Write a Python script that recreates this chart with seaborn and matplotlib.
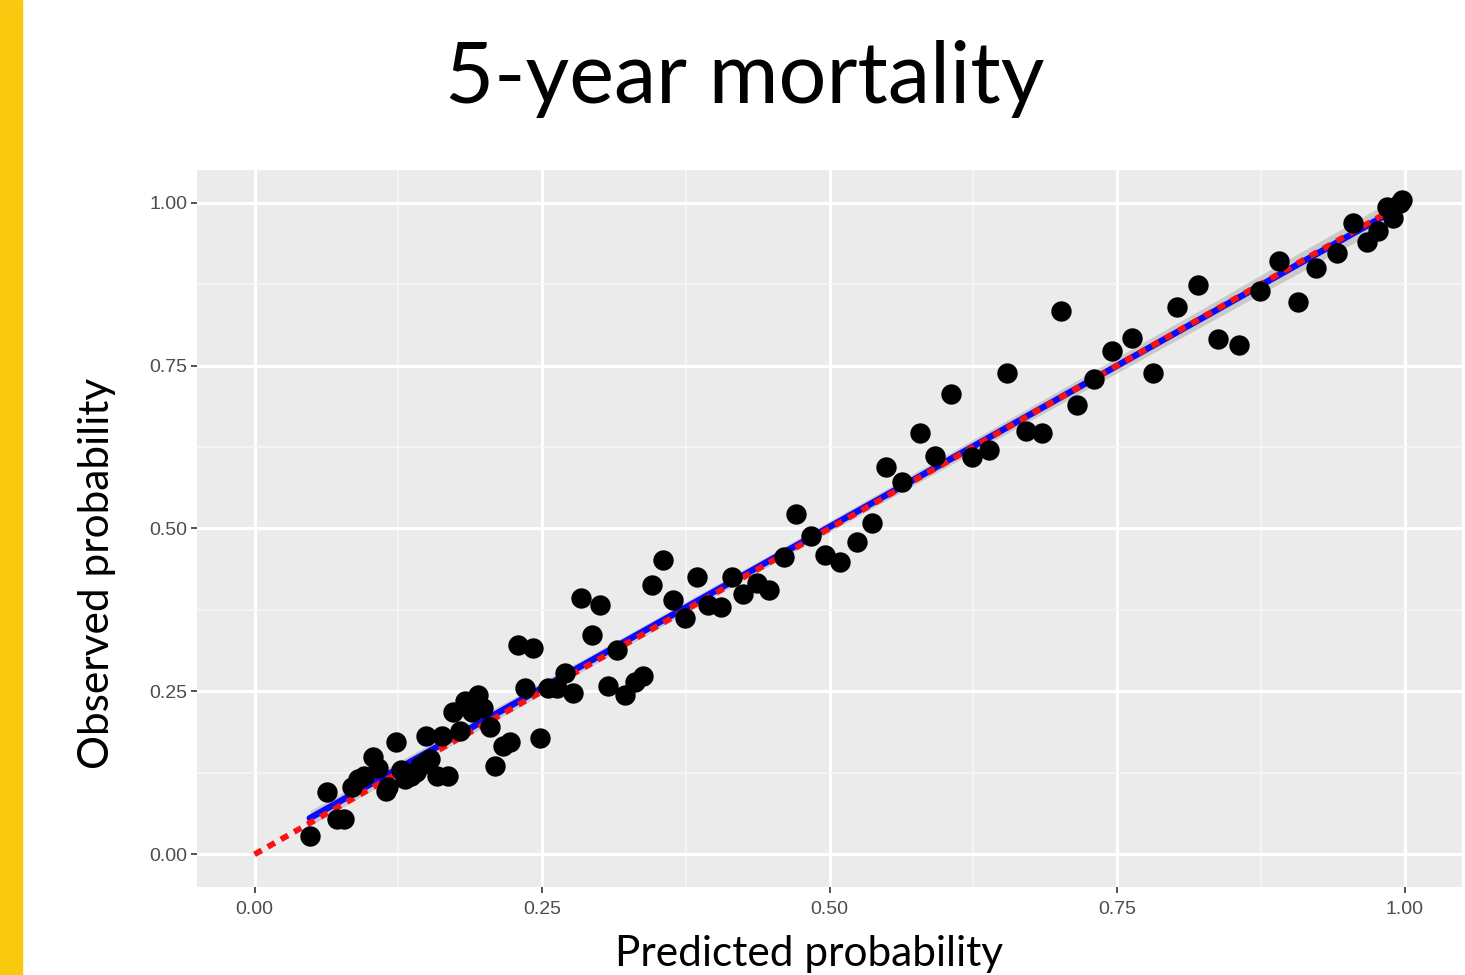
import pandas as pd
import seaborn as sb
import matplotlib.pyplot as plt
from matplotlib.patches import Rectangle
from matplotlib.ticker import MultipleLocator

# calibration points (predicted vs observed 5-year mortality)
predicted = [0.048, 0.063, 0.072, 0.078, 0.085, 0.090, 0.095, 0.103, 0.107, 0.114,
             0.116, 0.123, 0.127, 0.131, 0.136, 0.140, 0.144, 0.149, 0.153, 0.149,
             0.159, 0.168, 0.163, 0.173, 0.179, 0.183, 0.189, 0.194, 0.199, 0.205,
             0.209, 0.216, 0.222, 0.229, 0.242, 0.235, 0.248, 0.255, 0.263, 0.270,
             0.277, 0.284, 0.300, 0.293, 0.315, 0.307, 0.322, 0.331, 0.338, 0.346,
             0.355, 0.364, 0.374, 0.385, 0.394, 0.406, 0.415, 0.425, 0.437, 0.447,
             0.460, 0.471, 0.484, 0.496, 0.509, 0.524, 0.537, 0.549, 0.563, 0.579,
             0.592, 0.606, 0.624, 0.639, 0.654, 0.671, 0.685, 0.701, 0.715, 0.730,
             0.746, 0.763, 0.781, 0.802, 0.820, 0.838, 0.856, 0.874, 0.891, 0.907,
             0.923, 0.941, 0.955, 0.967, 0.977, 0.985, 0.990, 0.996, 0.998]
observed = [0.028, 0.095, 0.054, 0.054, 0.104, 0.115, 0.120, 0.150, 0.133, 0.097,
            0.103, 0.173, 0.130, 0.115, 0.120, 0.126, 0.135, 0.141, 0.146, 0.181,
            0.120, 0.120, 0.181, 0.219, 0.189, 0.235, 0.218, 0.245, 0.225, 0.196,
            0.135, 0.166, 0.173, 0.322, 0.316, 0.256, 0.179, 0.256, 0.256, 0.279,
            0.248, 0.393, 0.383, 0.337, 0.314, 0.258, 0.245, 0.265, 0.273, 0.413,
            0.451, 0.391, 0.363, 0.426, 0.383, 0.379, 0.426, 0.399, 0.417, 0.405,
            0.457, 0.523, 0.489, 0.459, 0.449, 0.480, 0.509, 0.595, 0.572, 0.646,
            0.612, 0.707, 0.610, 0.620, 0.739, 0.649, 0.646, 0.833, 0.690, 0.730,
            0.773, 0.793, 0.738, 0.840, 0.873, 0.790, 0.781, 0.865, 0.910, 0.847,
            0.899, 0.923, 0.969, 0.940, 0.956, 0.994, 0.977, 1.000, 1.004]
ref_line = [0.0, 1.0]
tick_vals = [0.0, 0.25, 0.5, 0.75, 1.0]
tick_labels = ['0.00', '0.25', '0.50', '0.75', '1.00']

tbl = pd.DataFrame({'predicted': predicted, 'observed': observed})

sb.set_theme(
    style='darkgrid',
    rc={'axes.facecolor': '#EBEBEB', 'grid.color': 'white', 'figure.dpi': 100}
)
plt.rcParams['font.family'] = ['Lato', 'DejaVu Sans']

fig = plt.figure(figsize=(14.65, 9.75), dpi=100)
fig.add_artist(Rectangle((0, 0), 22 / 1465, 1, transform=fig.transFigure,
                         color='#F9C910', zorder=0))
ax = fig.add_axes([0.1345, 0.0903, 0.8635, 0.7353])

# smoother with gray confidence band, blue line
sb.regplot(
    data=tbl, ax=ax,
    x='predicted', y='observed',
    scatter=False, ci=95, color='0.55', line_kws={'lw': 4.6, 'zorder': 2}
)
ax.lines[-1].set_color('#0A0AFF')
ax.collections[-1].set_alpha(0.35)

# perfect calibration reference
ax.plot(ref_line, ref_line, color='#FF1010', lw=4.2,
        linestyle=(0, (1.4, 1.2)), zorder=3)

sb.scatterplot(
    data=tbl, ax=ax,
    x='predicted', y='observed',
    color='black', s=215, linewidth=0, zorder=4
)

ax.set_xlim(-0.05, 1.05)
ax.set_ylim(-0.05, 1.05)
ax.set_xticks(tick_vals, tick_labels)
ax.set_yticks(tick_vals, tick_labels)
ax.xaxis.set_minor_locator(MultipleLocator(0.125))
ax.yaxis.set_minor_locator(MultipleLocator(0.125))
ax.grid(which='major', color='white', lw=2.2)
ax.grid(which='minor', color='#F7F7F7', lw=1.1)
for s in ax.spines.values():
    s.set_visible(False)
ax.tick_params(which='major', bottom=True, left=True, length=4, width=1.2,
               color='#333333', labelcolor='#4D4D4D', labelsize=14,
               labelfontfamily='Liberation Sans', pad=3)
ax.tick_params(axis='x', pad=6)
ax.tick_params(which='minor', length=0)
ax.set(xlabel='', ylabel='')

fig.text(0.5085, 0.894, '5-year mortality', ha='center', va='baseline',
         fontsize=61, color='black')
fig.text(0.552, 0.009, 'Predicted probability', ha='center', va='baseline',
         fontsize=30.5, color='black')
fig.text(0.066, 0.412, 'Observed probability', ha='center', va='center',
         rotation=90, fontsize=30.5, color='black')

plt.savefig('out.png', dpi=100)
